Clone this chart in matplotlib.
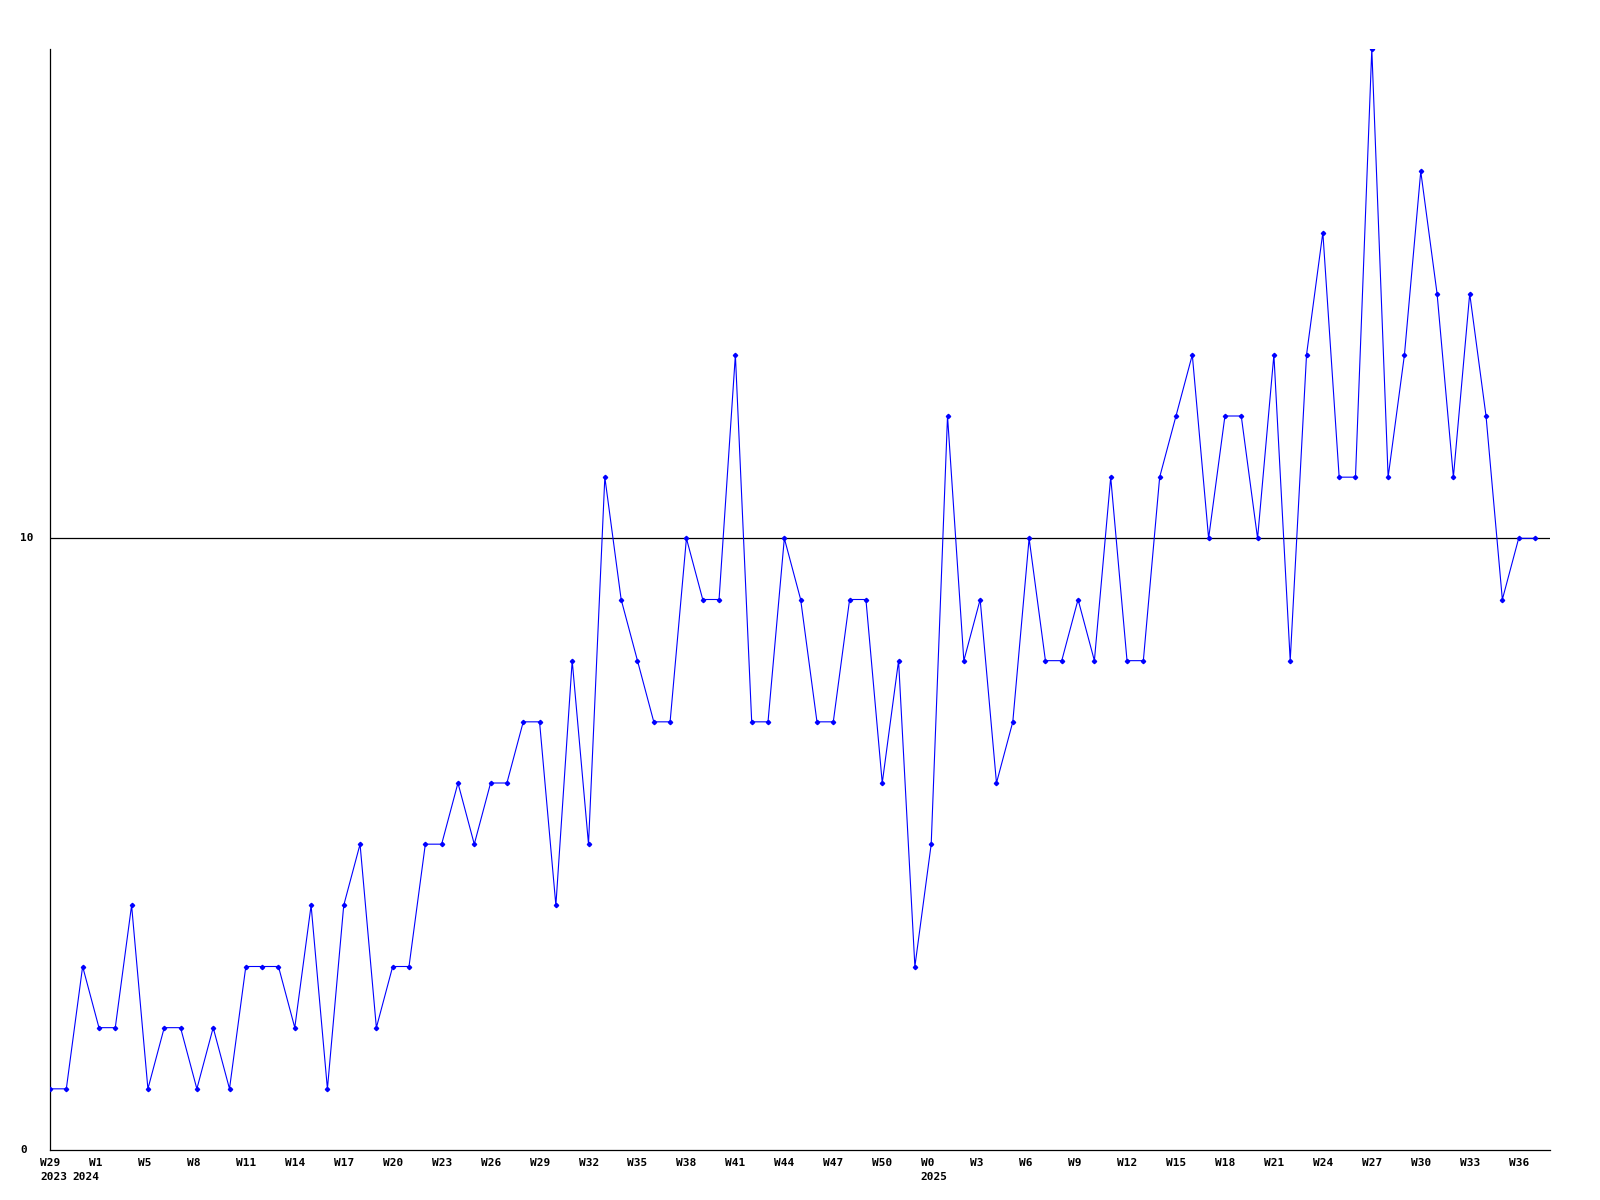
import matplotlib
matplotlib.use("Agg")
import matplotlib.pyplot as plt

# weekly counts, 2023 W29 .. 2025 W37 (one point per week in the data)
values = [1, 1, 3, 2, 2, 4, 1, 2, 2, 1, 2, 1, 3, 3, 3, 2, 4, 1, 4, 5,
          2, 3, 3, 5, 5, 6, 5, 6, 6, 7, 7, 4, 8, 5, 11, 9, 8, 7, 7, 10,
          9, 9, 13, 7, 7, 10, 9, 7, 7, 9, 9, 6, 8, 3, 5, 12, 8, 9, 6, 7,
          10, 8, 8, 9, 8, 11, 8, 8, 11, 12, 13, 10, 12, 12, 10, 13, 8, 13, 15, 11,
          11, 18, 11, 13, 16, 14, 11, 14, 12, 9, 10, 10]

# every third point gets a week label
week_labels = ["W29", "W1", "W5", "W8", "W11", "W14", "W17", "W20", "W23", "W26",
               "W29", "W32", "W35", "W38", "W41", "W44", "W47", "W50", "W0", "W3",
               "W6", "W9", "W12", "W15", "W18", "W21", "W24", "W27", "W30", "W33", "W36"]
year_labels = ["2023", "2024", "2025"]
year_pos = [0, 3, 54]
year_shift = [-10, -27, -11]   # pixel offsets as in the original

ref_value = 10
y_ticks = [0, 10]

FONT = dict(family="DejaVu Sans Mono", fontsize=8, weight="bold")

fig = plt.figure(figsize=(16, 12), dpi=100)
ax = fig.add_axes([50 / 1600, 1 - 1150 / 1200, 1500 / 1600, 1101 / 1200])

xs = list(range(len(values)))
ax.plot(xs, values, color="#0000ff", lw=0.8, marker="D", ms=2.2, mfc="#0000ff",
        mec="#0000ff", zorder=3)
ax.axhline(ref_value, color="black", lw=0.9, zorder=2)

ax.set_xlim(0, len(values) - 1 + 0.92)
ax.set_ylim(0, 18)
ax.set_xticks([]); ax.set_yticks([])
for s in ("top", "right"):
    ax.spines[s].set_visible(False)
for s in ("left", "bottom"):
    ax.spines[s].set_linewidth(0.9)

for i, lab in enumerate(week_labels):
    ax.annotate(lab, xy=(i * 3, 0), xycoords=("data", "axes fraction"),
                xytext=(-10, -8), textcoords="offset pixels",
                ha="left", va="top", **FONT)
for x, lab, dx in zip(year_pos, year_labels, year_shift):
    ax.annotate(lab, xy=(x, 0), xycoords=("data", "axes fraction"),
                xytext=(dx, -22), textcoords="offset pixels",
                ha="left", va="top", **FONT)
for v in y_ticks:
    ax.annotate(str(v), xy=(0, v), xycoords=("axes fraction", "data"),
                xytext=(-30, 0), textcoords="offset pixels",
                ha="left", va="center", **FONT)

fig.savefig("out.png", dpi=100, facecolor="white")
